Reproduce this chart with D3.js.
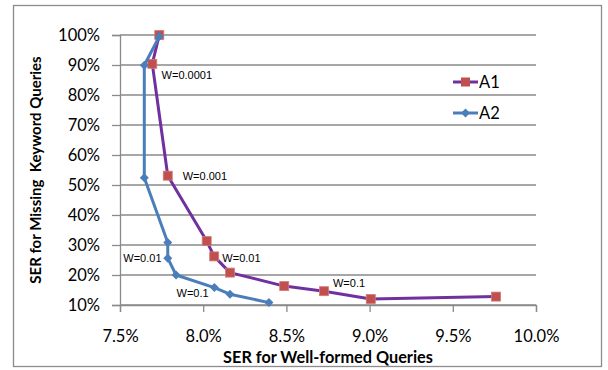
<!DOCTYPE html>
<html>
<head>
<meta charset="utf-8">
<script src="https://cdn.jsdelivr.net/npm/d3@7"></script>
<style>
  body { margin: 0; background: #fff; }
  svg { display: block; }
</style>
</head>
<body>
<svg id="chart" viewBox="0 0 608 370" width="608" height="370"></svg>
<script>
// values (fractions)
const a1X = [0.07736, 0.07694, 0.07787, 0.08021, 0.08066, 0.08161, 0.08487, 0.08726, 0.09007, 0.0976];
const a1Y = [1.000, 0.904, 0.531, 0.313, 0.262, 0.208, 0.163, 0.146, 0.120, 0.128];
const a2X = [0.07736, 0.07646, 0.07646, 0.07787, 0.07787, 0.07837, 0.08067, 0.08161, 0.08395];
const a2Y = [0.995, 0.899, 0.524, 0.308, 0.256, 0.200, 0.158, 0.136, 0.108];
const xTicks = [0.075, 0.08, 0.085, 0.09, 0.095, 0.10];
const yTicks = [0.1, 0.2, 0.3, 0.4, 0.5, 0.6, 0.7, 0.8, 0.9, 1.0];
const noteText = ["W=0.0001", "W=0.001", "W=0.01", "W=0.01", "W=0.1", "W=0.1"];
const noteX = [0.0775, 0.07877, 0.0752, 0.08115, 0.0784, 0.0878];
const noteY = [0.866, 0.528, 0.256, 0.256, 0.139, 0.174];

const svg = d3.select("#chart");
const width = 608, height = 370;
const gridColor = "#8a8a8a";
const labelFont = "Lato, 'Liberation Sans', sans-serif";

svg.append("rect").attr("width", width).attr("height", height).attr("fill", "#fff");
// outer chart border
svg.append("rect")
    .attr("x", 13.5).attr("y", 5.5).attr("width", 588).attr("height", 361)
    .attr("fill", "none").attr("stroke", "#8c8c8c").attr("stroke-width", 1.3);

const x = d3.scaleLinear().domain([0.075, 0.10]).range([120, 536]);
const y = d3.scaleLinear().domain([0.1, 1.0]).range([305, 35]);

// horizontal gridlines
svg.append("g")
    .selectAll("line")
    .data(yTicks)
    .enter()
    .append("line")
    .attr("x1", x(0.075)).attr("x2", x(0.10))
    .attr("y1", d => y(d)).attr("y2", d => y(d))
    .attr("stroke", gridColor).attr("stroke-width", 1.3);

// y axis
const yAxis = svg.append("g")
    .attr("transform", `translate(${x(0.075)},0)`)
    .call(d3.axisLeft(y).tickValues(yTicks).tickFormat(d3.format(".0%")).tickSize(8).tickPadding(12));
// x axis
const xAxis = svg.append("g")
    .attr("transform", `translate(0,${y(0.1)})`)
    .call(d3.axisBottom(x).tickValues(xTicks).tickFormat(d3.format(".1%")).tickSize(7).tickPadding(18));

[yAxis, xAxis].forEach(ax => {
    ax.select(".domain").attr("stroke", gridColor).attr("stroke-width", 1.3);
    ax.selectAll(".tick line").attr("stroke", gridColor).attr("stroke-width", 1.3);
    ax.selectAll(".tick text")
        .attr("fill", "#000")
        .style("font-family", labelFont)
        .style("font-size", "16.5px");
});

// axis titles
svg.append("text")
    .attr("x", (x(0.075) + x(0.10)) / 2).attr("y", 363)
    .attr("text-anchor", "middle")
    .style("font-family", labelFont).style("font-weight", "bold").style("font-size", "16.3px")
    .text("SER for Well-formed Queries");
svg.append("text")
    .attr("transform", `translate(41,${(y(0.1) + y(1.0)) / 2}) rotate(-90)`)
    .attr("text-anchor", "middle")
    .style("font-family", labelFont).style("font-weight", "bold").style("font-size", "15px")
    .style("white-space", "pre")
    .text("SER for Missing  Keyword Queries");

const line = d3.line().x(d => x(d[0])).y(d => y(d[1]));
const a1 = d3.zip(a1X, a1Y);
const a2 = d3.zip(a2X, a2Y);

// A1 series
svg.append("path").datum(a1)
    .attr("d", line).attr("fill", "none")
    .attr("stroke", "#7030a0").attr("stroke-width", 3).attr("stroke-linejoin", "round");
svg.append("g").selectAll("rect")
    .data(a1).enter().append("rect")
    .attr("x", d => x(d[0]) - 4.5).attr("y", d => y(d[1]) - 4.5)
    .attr("width", 9).attr("height", 9)
    .attr("fill", "#c0504d").attr("stroke", "#d47b78").attr("stroke-width", 0.8);

// A2 series
const diamond = d3.symbol().type(d3.symbolDiamond2).size(52);
svg.append("path").datum(a2)
    .attr("d", line).attr("fill", "none")
    .attr("stroke", "#4a7ebb").attr("stroke-width", 3).attr("stroke-linejoin", "round");
svg.append("g").selectAll("path")
    .data(a2).enter().append("path")
    .attr("d", diamond)
    .attr("transform", d => `translate(${x(d[0])},${y(d[1])})`)
    .attr("fill", "#4a7ebb");

// W annotations
svg.append("g").selectAll("text")
    .data(noteText).enter().append("text")
    .attr("x", (d, i) => x(noteX[i])).attr("y", (d, i) => y(noteY[i]))
    .attr("dy", "0.35em")
    .style("font-family", "'Liberation Sans', Arial, sans-serif").style("font-size", "11px")
    .text(d => d);

// legend
const legendNames = ["A1", "A2"];
const legendY = [82, 113];
const legend = svg.append("g").selectAll("g")
    .data(legendNames).enter().append("g")
    .attr("transform", (d, i) => `translate(453,${legendY[i]})`);
legend.append("line")
    .attr("x1", 0).attr("x2", 25)
    .attr("stroke", (d, i) => i === 0 ? "#7030a0" : "#4a7ebb").attr("stroke-width", 3);
legend.filter((d, i) => i === 0).append("rect")
    .attr("x", 8).attr("y", -4.5).attr("width", 9).attr("height", 9)
    .attr("fill", "#c0504d");
legend.filter((d, i) => i === 1).append("path")
    .attr("d", diamond).attr("transform", "translate(12.5,0)")
    .attr("fill", "#4a7ebb");
legend.append("text")
    .attr("x", 26).attr("dy", "0.35em")
    .style("font-family", labelFont).style("font-size", "16.5px")
    .text(d => d);
</script>
</body>
</html>
